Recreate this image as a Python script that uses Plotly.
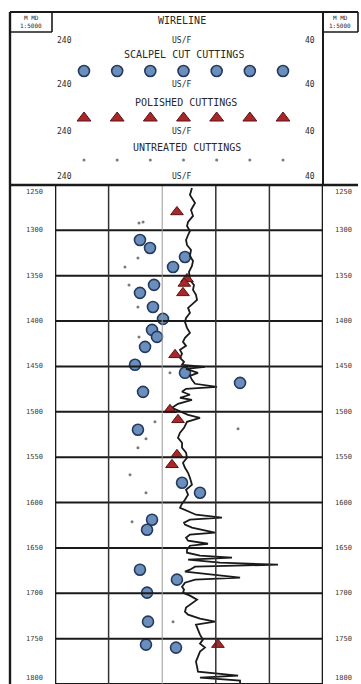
import numpy as np
import plotly.graph_objects as go

# ---- data -------------------------------------------------------------
# Wireline sonic log (depth in m MD, slowness in us/f)
sonic_depth = [1253.3, 1261.0, 1269.8, 1277.5, 1284.1, 1290.7, 1295.2, 1300.7, 1305.1, 1310.6,
               1316.1, 1321.6, 1328.2, 1333.7, 1339.2, 1345.8, 1354.6, 1360.1, 1365.6, 1371.1,
               1376.6, 1381.1, 1385.5, 1391.0, 1396.5, 1400.9, 1407.5, 1413.0, 1418.5, 1422.9,
               1427.3, 1431.7, 1436.1, 1440.5, 1444.9, 1448.2, 1450.4, 1452.6, 1457.0, 1460.3,
               1464.7, 1469.1, 1472.5, 1474.6, 1477.9, 1481.2, 1484.5, 1486.8, 1491.2, 1495.6,
               1500.0, 1503.3, 1506.6, 1511.0, 1517.6, 1523.1, 1528.6, 1534.1, 1539.6, 1545.1,
               1550.6, 1556.2, 1561.7, 1567.2, 1572.7, 1580.4, 1585.9, 1591.4, 1596.9, 1601.3,
               1605.7, 1610.1, 1613.4, 1616.7, 1618.9, 1622.2, 1624.4, 1627.7, 1629.9, 1633.2,
               1635.4, 1638.8, 1642.1, 1645.4, 1647.6, 1652.0, 1655.3, 1658.6, 1660.8, 1663.0,
               1666.3, 1668.5, 1670.7, 1674.0, 1676.2, 1679.5, 1682.8, 1685.0, 1688.3, 1692.7,
               1696.0, 1699.3, 1702.6, 1707.0, 1711.4, 1715.8, 1720.3, 1723.6, 1728.0, 1731.3,
               1734.6, 1740.1, 1745.6, 1751.1, 1755.5, 1759.9, 1764.3, 1769.8, 1775.3, 1780.8,
               1786.3, 1790.7, 1792.9, 1796.2, 1799.5]
sonic_value = [137.8, 139.3, 135.5, 138.5, 137.0, 140.7, 141.5, 139.3, 140.7, 142.2,
               141.5, 138.5, 139.3, 137.0, 137.8, 140.0, 139.3, 136.3, 137.0, 134.8,
               134.0, 137.0, 140.7, 139.3, 142.2, 143.0, 141.5, 139.3, 143.0, 144.5,
               142.2, 146.7, 145.2, 146.7, 143.7, 145.2, 128.1, 142.2, 133.3, 139.3,
               137.8, 135.5, 119.1, 142.2, 145.2, 139.3, 146.7, 137.8, 148.2, 152.7,
               145.2, 140.7, 131.8, 141.5, 143.7, 146.7, 148.2, 145.2, 145.2, 142.2,
               141.5, 144.5, 143.0, 140.7, 139.3, 137.8, 142.2, 140.7, 143.0, 145.2,
               146.7, 139.3, 134.8, 115.4, 139.3, 143.7, 143.0, 137.8, 131.8, 120.6,
               139.3, 142.2, 140.7, 125.8, 139.3, 141.5, 141.5, 131.8, 107.9, 140.7,
               116.9, 73.6, 135.5, 139.3, 143.0, 120.6, 101.9, 135.5, 143.0, 145.2,
               143.7, 144.5, 139.3, 134.0, 137.8, 142.2, 143.0, 140.7, 131.8, 120.6,
               134.8, 133.3, 131.8, 129.6, 131.8, 128.1, 131.8, 133.3, 134.8, 134.0,
               133.3, 103.4, 131.8, 101.9, 101.9]

# Scalpel cut cuttings
scalpel_depth = [1310.6, 1319.4, 1329.3, 1340.3, 1360.1, 1368.9, 1384.4, 1397.6, 1409.7, 1417.4,
                 1428.4, 1448.2, 1457.0, 1468.1, 1478.0, 1519.8, 1578.2, 1589.2, 1618.9, 1630.0,
                 1674.0, 1685.0, 1699.3, 1731.3, 1756.6, 1759.9]
scalpel_value = [176.6, 169.1, 143.0, 151.9, 166.1, 176.6, 166.9, 159.4, 167.6, 163.9,
                 172.8, 180.3, 143.0, 101.9, 174.3, 178.1, 145.2, 131.8, 167.6, 171.3,
                 176.6, 149.0, 171.3, 170.6, 172.1, 149.7]

# Polished cuttings
polished_depth = [1279.7, 1353.5, 1358.5, 1368.9, 1437.2, 1497.8, 1508.8, 1547.4, 1558.4, 1756.6]
polished_value = [149.0, 141.5, 143.5, 144.5, 150.4, 154.2, 148.2, 149.0, 152.7, 118.4]

# Untreated cuttings
untreated_depth = [1291.8, 1290.7, 1330.4, 1340.3, 1360.1, 1384.4, 1417.4, 1457.0, 1511.0, 1529.7,
                   1539.6, 1569.4, 1589.2, 1518.7, 1621.1, 1731.3, 1700.5]
untreated_value = [177.3, 174.3, 178.1, 187.8, 184.8, 178.1, 177.3, 154.2, 165.4, 172.1,
                   178.1, 184.0, 172.1, 103.4, 182.5, 151.9, 168.0]

depth_ticks = [1250, 1300, 1350, 1400, 1450, 1500, 1550, 1600, 1650, 1700, 1750, 1800]
scale_left, scale_right, scale_unit = "240", "40", "US/F"

# ---- styling / layout constants --------------------------------------
W, H = 361, 684
TRACK_L, TRACK_R = 55, 323          # track edges (px)
HEAD_TOP, HEAD_BOT = 12, 185        # header box (px)
OUTER_L, OUTER_R = 10, 358

BLUE_FILL, BLUE_EDGE = "#6b8fbd", "#25395e"
RED_FILL, RED_EDGE = "#a8272b", "#5c1212"
DOT = "#7a7a7a"
INK = "#1a1a1a"
FONT = "DejaVu Sans Mono"


def py(ypx):
    """pixel row -> paper y"""
    return 1 - ypx / H


def px(xpx):
    return xpx / W


fig = go.Figure()

# main track
fig.add_trace(go.Scatter(x=scalpel_value, y=scalpel_depth, mode="markers",
                         marker=dict(symbol="circle", size=11, color=BLUE_FILL,
                                     line=dict(color=BLUE_EDGE, width=1.6)),
                         name="SCALPEL CUT CUTTINGS", showlegend=False))
fig.add_trace(go.Scatter(x=sonic_value, y=sonic_depth, mode="lines",
                         line=dict(color=INK, width=1.8), name="WIRELINE",
                         showlegend=False))
fig.add_trace(go.Scatter(x=polished_value, y=polished_depth, mode="markers",
                         marker=dict(symbol="triangle-up", size=11, color=RED_FILL,
                                     line=dict(color=RED_EDGE, width=1)),
                         name="POLISHED CUTTINGS", showlegend=False))
fig.add_trace(go.Scatter(x=untreated_value, y=untreated_depth, mode="markers",
                         marker=dict(symbol="circle", size=3, color=DOT),
                         name="UNTREATED CUTTINGS", showlegend=False))

# header sample symbols, on a full-figure pixel axis
row_x = list(np.linspace(84, 283, 7))
fig.add_trace(go.Scatter(x=row_x, y=[71] * 7, mode="markers", xaxis="x2", yaxis="y2",
                         marker=dict(symbol="circle", size=11, color=BLUE_FILL,
                                     line=dict(color=BLUE_EDGE, width=1.6)),
                         showlegend=False, hoverinfo="skip"))
fig.add_trace(go.Scatter(x=row_x, y=[118] * 7, mode="markers", xaxis="x2", yaxis="y2",
                         marker=dict(symbol="triangle-up", size=12, color=RED_FILL,
                                     line=dict(color=RED_EDGE, width=1)),
                         showlegend=False, hoverinfo="skip"))
fig.add_trace(go.Scatter(x=row_x, y=[160] * 7, mode="markers", xaxis="x2", yaxis="y2",
                         marker=dict(symbol="circle", size=3, color=DOT),
                         showlegend=False, hoverinfo="skip"))

shapes = []
# horizontal depth grid
for d in depth_ticks:
    shapes.append(dict(type="line", xref="x domain", yref="y", x0=0, x1=1, y0=d, y1=d,
                       line=dict(color=INK, width=2)))
# vertical grid
for v in [200, 120, 80]:
    shapes.append(dict(type="line", xref="x", yref="y domain", x0=v, x1=v, y0=0, y1=1,
                       line=dict(color="#333", width=1.5)))
shapes.append(dict(type="line", xref="x", yref="y domain", x0=160, x1=160, y0=0, y1=1,
                   line=dict(color="#999", width=1)))
for v in [240, 40]:
    shapes.append(dict(type="line", xref="x", yref="y domain", x0=v, x1=v, y0=0, y1=1,
                       line=dict(color=INK, width=2.6)))

# frame and header boxes
def pline(x0, y0, x1, y1, w=2):
    shapes.append(dict(type="line", xref="paper", yref="paper",
                       x0=px(x0), x1=px(x1), y0=py(y0), y1=py(y1),
                       line=dict(color=INK, width=w)))

pline(OUTER_L, HEAD_TOP, OUTER_L, H, 2.4)            # outer left border
pline(OUTER_L, HEAD_TOP, OUTER_R, HEAD_TOP, 2)       # header top
pline(OUTER_L, HEAD_BOT, OUTER_R, HEAD_BOT, 2.4)     # header bottom
pline(52, HEAD_TOP, 52, 32, 1.6)                      # left scale box
pline(OUTER_L, 32, 52, 32, 1.6)
pline(TRACK_R, HEAD_TOP, TRACK_R, HEAD_BOT, 2)        # header right edge
pline(OUTER_R, HEAD_TOP, OUTER_R, 32, 1.6)            # right scale box
pline(TRACK_R, 32, OUTER_R, 32, 1.6)

annotations = []


def label(text, xpx, ypx, size=9, color="#2a2a2a", xanchor="center"):
    annotations.append(dict(text=text, x=px(xpx), y=py(ypx), xref="paper", yref="paper",
                            showarrow=False, xanchor=xanchor, yanchor="middle",
                            font=dict(family=FONT, size=size, color=color)))


label("M MD", 31, 17, size=6)
label("1:5000", 31, 25, size=6)
label("M MD", 340, 17, size=6)
label("1:5000", 340, 25, size=6)
label("WIRELINE", 182, 21, size=10)

for y_scale in [40, 85, 132, 176]:
    label(scale_left, 64, y_scale, size=8)
    label(scale_unit, 182, y_scale, size=8)
    label(scale_right, 310, y_scale, size=8)

label("SCALPEL CUT CUTTINGS", 184, 54, size=10)
label("POLISHED CUTTINGS", 186, 102, size=10)
label("UNTREATED CUTTINGS", 187, 147, size=10)

# depth labels in both margins
for d in depth_ticks:
    anchor = "middle"
    yshift = 0
    if d == depth_ticks[0]:
        anchor, yshift = "top", -1
    elif d == depth_ticks[-1]:
        anchor, yshift = "bottom", 0
    for xc in (34, 343):
        annotations.append(dict(text=str(d), x=px(xc), y=d, xref="paper", yref="y",
                                showarrow=False, xanchor="center", yanchor=anchor,
                                yshift=yshift,
                                font=dict(family=FONT, size=7, color="#3a3a3a")))

fig.update_layout(
    width=W, height=H,
    margin=dict(l=0, r=0, t=0, b=0),
    paper_bgcolor="white", plot_bgcolor="rgba(0,0,0,0)",
    showlegend=False,
    xaxis=dict(domain=[px(TRACK_L), px(TRACK_R)], range=[240, 40], showgrid=False,
               zeroline=False, showticklabels=False, ticks="", showline=False),
    yaxis=dict(domain=[0, py(HEAD_BOT)], range=[1800, 1250], showgrid=False,
               zeroline=False, showticklabels=False, ticks="", showline=False),
    xaxis2=dict(domain=[0, 1], range=[0, W], visible=False, anchor="y2"),
    yaxis2=dict(domain=[0, 1], range=[H, 0], visible=False, anchor="x2"),
    shapes=shapes,
    annotations=annotations,
)

fig.write_html("out.html")
